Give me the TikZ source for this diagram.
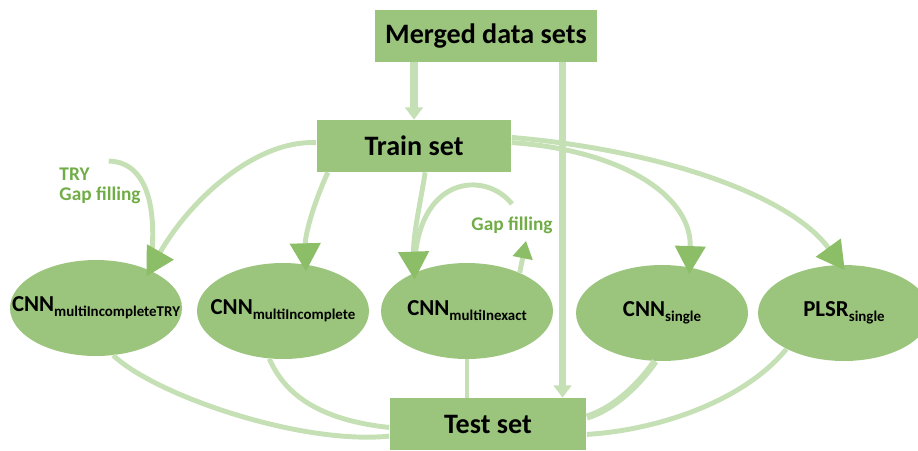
\documentclass[tikz,border=0pt]{standalone}
\usepackage{fontspec}
\setmainfont{Carlito}
\usetikzlibrary{shapes.geometric,arrows.meta}
\definecolor{boxgreen}{HTML}{9BC57D}
\definecolor{linegreen}{HTML}{C5E0B4}
\definecolor{tipgreen}{HTML}{8CBE68}
\definecolor{textgreen}{HTML}{70AD47}
\newcommand{\idx}[1]{\raisebox{-0.45ex}{\fontsize{8.5}{10}\selectfont #1}}
\newcommand{\model}[2]{\makebox[0pt]{\bfseries #1\idx{#2}}}

\begin{document}
\begin{tikzpicture}[x=0.02cm,y=-0.02cm,
    setbox/.style={fill=boxgreen,minimum height=1.04cm,font=\fontsize{16}{19}\selectfont\bfseries},
    model/.style={ellipse,fill=boxgreen,minimum width=3.44cm,minimum height=1.92cm,inner sep=0pt,font=\fontsize{13}{15}\selectfont},
    link/.style={draw=linegreen,line width=2.8pt},
    bigtip/.style={-{Triangle[width=17pt,length=16pt,color=tipgreen]},shorten >=-4pt},
    midtip/.style={-{Triangle[width=11pt,length=10pt,color=tipgreen]}},
    smalltip/.style={-{Triangle[width=10pt,length=7pt]}},
    gaptext/.style={text=textgreen,inner sep=1pt,font=\fontsize{11}{11}\selectfont\bfseries}]
    \useasboundingbox (0,0) rectangle (918,450);

    % sets
    \node[setbox,minimum width=4.46cm] (merged) at (486,36) {Merged data sets};
    \node[setbox,minimum width=3.9cm] (train) at (414,146) {Train set};
    \node[setbox,minimum width=3.94cm] (test) at (488,424) {Test set};

    % models
    \foreach \x/\y/\name/\main/\sub in {96/308/try/CNN/multiIncompleteTRY,
        283/311/incomplete/CNN/multiIncomplete, 467/311/inexact/CNN/multiInexact,
        662/313/cnnsingle/CNN/single, 844/313/plsr/PLSR/single}
        \node[model] (\name) at (\x,\y) {\model{\main}{\sub}};

    \node[gaptext,align=left] (trygap) at (100,186) {TRY\\Gap filling};
    \node[gaptext] (gap) at (512,225) {Gap filling};

    % merged data
    \coordinate (drop) at (merged.-19.4);
    \draw[link,line width=4.5pt,smalltip] (train.north |- merged.south) -- (train.north);
    \draw[link,line width=4.5pt,smalltip] (drop) -- (drop |- test.north);

    % training
    \draw[link] ([xshift=5pt,yshift=3pt]trygap.north) .. controls (150,162) and (158,215) .. (try.35);
    \draw[link] ([yshift=6pt]gap.north) .. controls (485,170) and (415,175) .. (inexact.144);
    \draw[link,bigtip] (train.178) .. controls (255,140) and (190,200) .. (try.35);
    \draw[link,bigtip] (train.197) .. controls (313,205) and (305,235) .. (incomplete.64);
    \draw[link,bigtip] (train.-67) .. controls (420,205) and (413,235) .. (inexact.144);
    \draw[link,bigtip] (train.2) .. controls (620,150) and (692,195) .. (cnnsingle.59);
    \draw[link,bigtip] (train.5) .. controls (660,150) and (790,195) .. (plsr.94);
    \draw[link,midtip] (inexact.36) -- ([xshift=8pt,yshift=-3pt]gap.south);

    % testing
    \draw[link] (try.-70) .. controls (155,395) and (300,445) .. (test.187.5);
    \draw[link] (incomplete.-106) .. controls (285,395) and (320,420) .. (test.182);
    \draw[link,line width=2.2pt] (inexact.south) -- (inexact.south |- test.north);
    \draw[link,line width=4pt] (cnnsingle.-98) .. controls (635,390) and (610,410) .. (test.4);
    \draw[link] (plsr.-148) .. controls (745,400) and (660,430) .. (test.-6);
\end{tikzpicture}
\end{document}
